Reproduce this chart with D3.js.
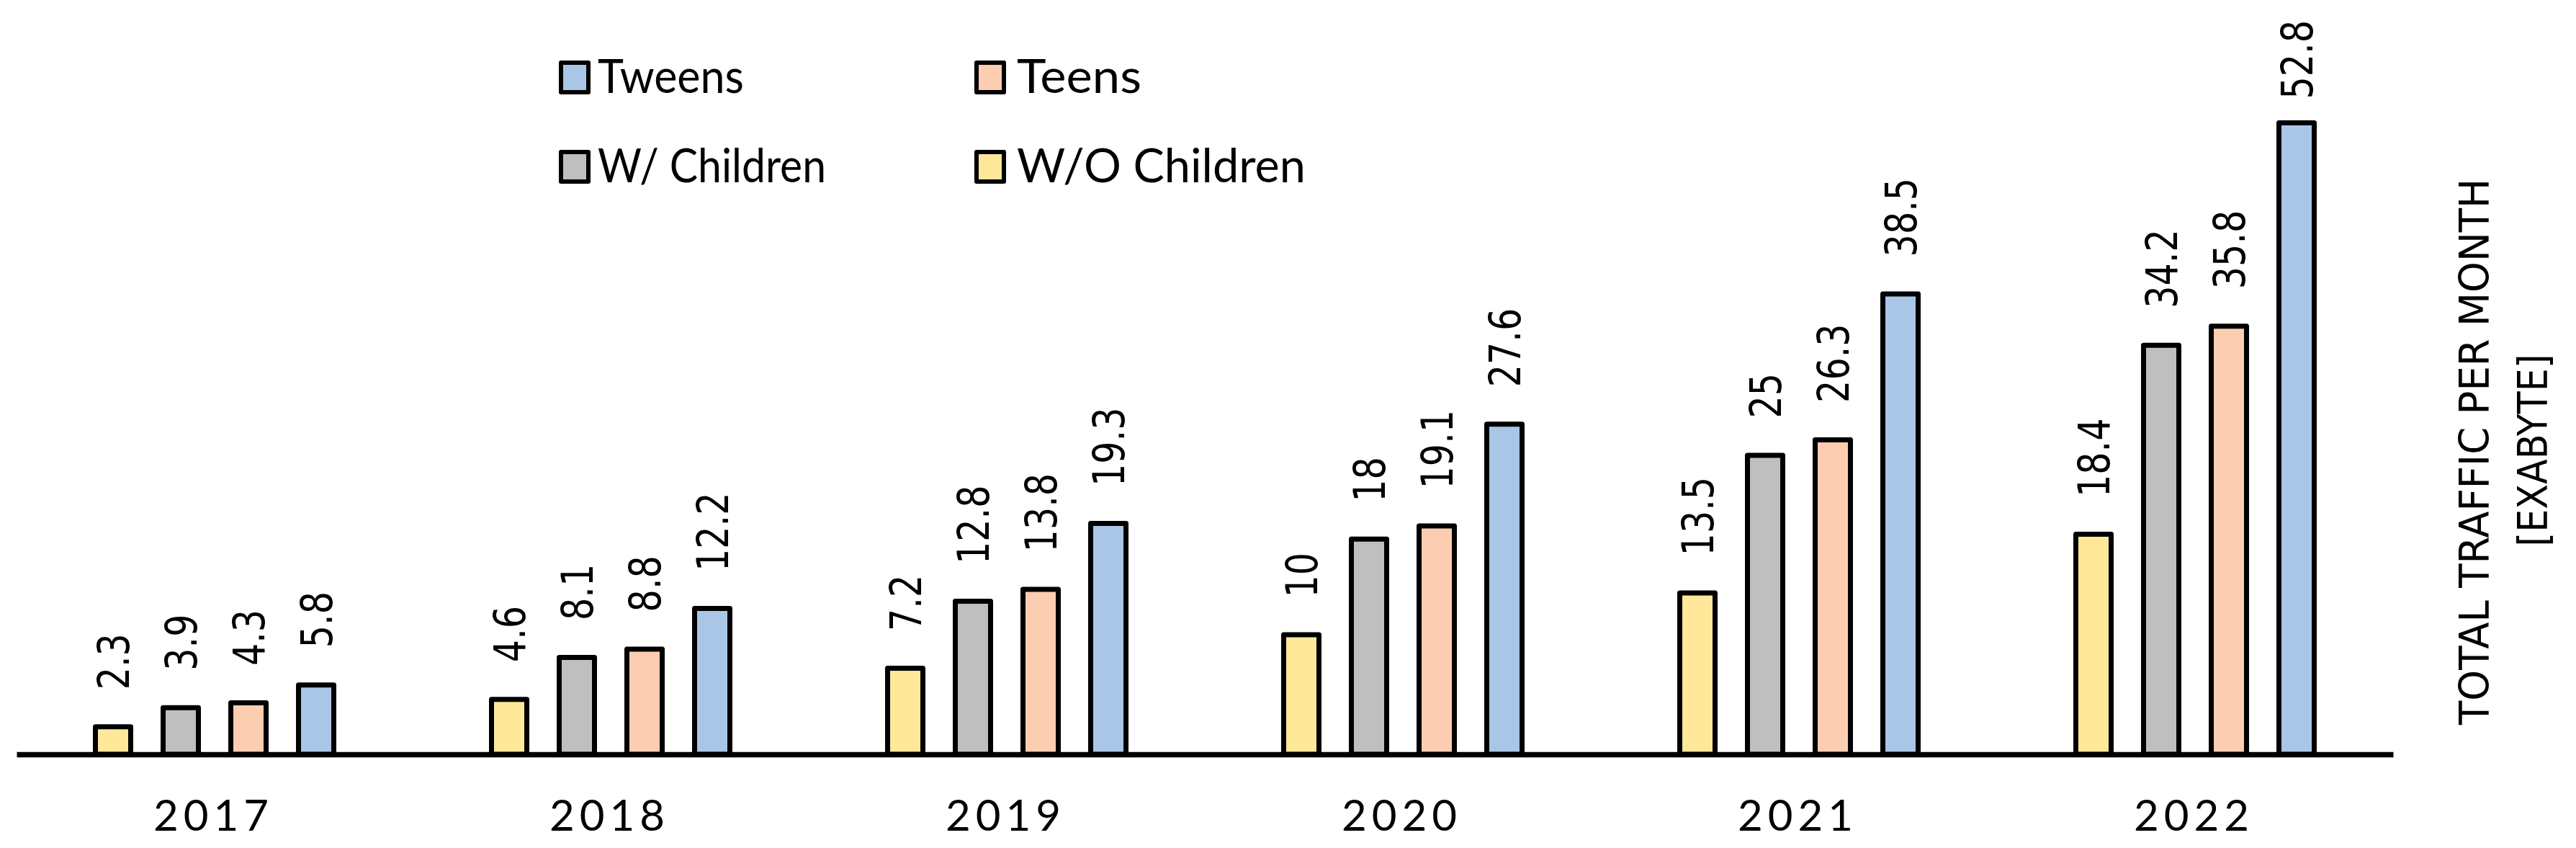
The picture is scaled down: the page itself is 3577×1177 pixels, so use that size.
<!DOCTYPE html>
<html>
<head>
<meta charset="utf-8">
<script src="https://cdn.jsdelivr.net/npm/d3@7"></script>
<style>
  html, body { margin: 0; padding: 0; background: #ffffff; }
  svg { display: block; }
</style>
</head>
<body>
<svg id="chart" width="3577" height="1177"></svg>
<script>
// ---- data ----
const years = ["2017", "2018", "2019", "2020", "2021", "2022"];
const seriesNames = ["W/O Children", "W/ Children", "Teens", "Tweens"];
const woChildren = [2.3, 4.6, 7.2, 10, 13.5, 18.4];
const wChildren = [3.9, 8.1, 12.8, 18, 25, 34.2];
const teens = [4.3, 8.8, 13.8, 19.1, 26.3, 35.8];
const tweens = [5.8, 12.2, 19.3, 27.6, 38.5, 52.8];
const legendOrder = ["Tweens", "Teens", "W/ Children", "W/O Children"];
const titleLines = ["TOTAL TRAFFIC PER MONTH", "[EXABYTE]"];

const seriesValues = {
  "W/O Children": woChildren,
  "W/ Children": wChildren,
  "Teens": teens,
  "Tweens": tweens
};
const colors = {
  "W/O Children": "#FFE899",
  "W/ Children": "#BFBFBF",
  "Teens": "#FDCDB2",
  "Tweens": "#A9C6E6"
};

const rows = [];
years.forEach((yr, i) => {
  seriesNames.forEach(s => rows.push({ year: yr, series: s, value: seriesValues[s][i] }));
});

// ---- layout ----
const svg = d3.select("#chart");
const baseY = 1047;
const x0 = d3.scaleBand().domain(years).range([23, 3323]).padding(0);
const x1 = d3.scaleBand().domain(seriesNames).range([-188, 188])
  .paddingInner(45 / 94).paddingOuter(45 / 188);
const y = d3.scaleLinear().domain([0, 63.07]).range([baseY, 0]);

const groupCenter = yr => x0(yr) + x0.bandwidth() / 2;
const barCenter = d => groupCenter(d.year) + x1(d.series) + x1.bandwidth() / 2;

// bars
svg.append("g").selectAll("rect").data(rows).join("rect")
  .attr("x", d => groupCenter(d.year) + x1(d.series))
  .attr("y", d => y(d.value))
  .attr("width", x1.bandwidth())
  .attr("height", d => y(0) - y(d.value))
  .attr("fill", d => colors[d.series])
  .attr("stroke", "#000")
  .attr("stroke-width", 7)
  .attr("stroke-linejoin", "round");

// value labels (rotated)
const labelScale = 0.82;
const labelFont = 60;
const labels = svg.append("g").selectAll("text").data(rows).join("text")
  .attr("font-family", "'DejaVu Sans', Verdana, sans-serif")
  .attr("font-size", labelFont)
  .attr("fill", "#000")
  .attr("text-anchor", "start")
  .text(d => String(d.value));
labels.each(function (d) {
  const len = this.getComputedTextLength() * labelScale;
  const startY = Math.max(y(d.value) - 51.5, 28 + len);
  const bx = barCenter(d) + 0.729 * labelFont / 2;
  d3.select(this).attr("transform",
    `translate(${bx},${startY}) rotate(-90) scale(${labelScale},1)`);
});

// x axis
const axis = d3.axisBottom(x0).tickSize(0).tickSizeOuter(0).tickPadding(0);
const gAxis = svg.append("g").attr("transform", `translate(0,${baseY})`).call(axis);
gAxis.select(".domain").attr("stroke", "#000").attr("stroke-width", 7.5);
gAxis.selectAll(".tick text")
  .attr("font-family", "Lato, 'Open Sans', sans-serif")
  .attr("font-size", 60)
  .attr("fill", "#000")
  .attr("dy", null)
  .attr("y", 1153 - baseY)
  .attr("x", -5)
  .attr("textLength", 160)
  .attr("lengthAdjust", "spacing");

// legend
const legendPos = {
  "Tweens": { x: 779, y: 87, tx: 830, ty: 129, len: 203 },
  "Teens": { x: 1356, y: 87, tx: 1412, ty: 129, len: 173 },
  "W/ Children": { x: 779, y: 211, tx: 830, ty: 253, len: 317 },
  "W/O Children": { x: 1356, y: 211, tx: 1412, ty: 253, len: 401 }
};
const leg = svg.append("g").selectAll("g").data(legendOrder).join("g");
leg.append("rect")
  .attr("x", d => legendPos[d].x)
  .attr("y", d => legendPos[d].y)
  .attr("width", 38)
  .attr("height", 41)
  .attr("fill", d => colors[d])
  .attr("stroke", "#000")
  .attr("stroke-width", 6)
  .attr("stroke-linejoin", "round");
leg.append("text")
  .attr("x", d => legendPos[d].tx)
  .attr("y", d => legendPos[d].ty)
  .attr("font-family", "Lato, 'Open Sans', sans-serif")
  .attr("font-size", 65)
  .attr("fill", "#000")
  .attr("textLength", d => legendPos[d].len)
  .attr("lengthAdjust", "spacingAndGlyphs")
  .text(d => d);

// right-side title
const titlePos = [
  { x: 3456, y: 627, len: 758 },
  { x: 3537, y: 625, len: 267 }
];
svg.append("g").selectAll("text").data(titleLines).join("text")
  .attr("transform", (d, i) => `translate(${titlePos[i].x},${titlePos[i].y}) rotate(-90)`)
  .attr("text-anchor", "middle")
  .attr("font-family", "'DejaVu Sans', Verdana, sans-serif")
  .attr("font-size", 57.6)
  .attr("fill", "#000")
  .attr("textLength", (d, i) => titlePos[i].len)
  .attr("lengthAdjust", "spacingAndGlyphs")
  .text(d => d);
</script>
</body>
</html>
